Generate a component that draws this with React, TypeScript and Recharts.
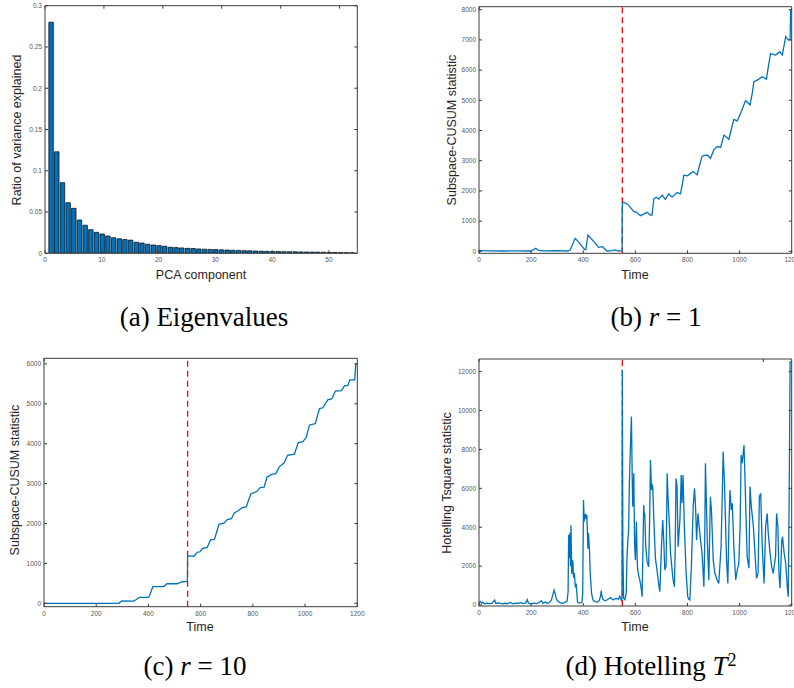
import { BarChart, Bar, LineChart, Line, XAxis, YAxis, ReferenceLine } from "recharts";

// (a) eigenvalue spectrum
const components = [
  1, 2, 3, 4, 5, 6, 7, 8, 9, 10, 11, 12, 13, 14, 15, 16, 17, 18, 19, 20, 21, 22, 23, 24, 25, 26, 27,
  28, 29, 30, 31, 32, 33, 34, 35, 36, 37, 38, 39, 40, 41, 42, 43, 44, 45, 46, 47, 48, 49, 50, 51, 52, 53, 54,
];
const varianceRatio = [
  0.28, 0.123, 0.0856, 0.0613, 0.0545, 0.0404, 0.034, 0.0286, 0.0254, 0.0234, 0.021, 0.0189, 0.0175,
  0.0166, 0.016, 0.0133, 0.0125, 0.011, 0.01, 0.0093, 0.0085, 0.0073, 0.0069, 0.0065, 0.006, 0.0058,
  0.0053, 0.005, 0.0047, 0.0045, 0.0042, 0.004, 0.0037, 0.0035, 0.0032, 0.003, 0.0028, 0.0026, 0.0024,
  0.0022, 0.0021, 0.002, 0.0019, 0.0018, 0.0017, 0.0016, 0.0015, 0.0014, 0.0013, 0.0011, 0.001, 0.0009,
  0.0008, 0.0007,
];

// (b) subspace-CUSUM, r = 1
const timeR1 = [
  0, 50, 100, 150, 200, 210, 218, 228, 250, 300, 340, 350, 369, 385, 405, 410, 418, 440, 459, 474, 491,
  510, 523, 535, 549, 550, 556, 570, 594, 605, 619, 632, 645, 658, 664, 671, 680, 690, 703, 715, 728,
  741, 760, 773, 780, 786, 800, 812, 822, 837, 845, 856, 866, 876, 888, 901, 914, 927, 940, 959, 970,
  978, 991, 1004, 1023, 1040, 1048, 1055, 1068, 1087, 1103, 1110, 1119, 1138, 1154, 1164, 1177, 1187,
  1194, 1196, 1200,
];
const cusumR1 = [
  20, 15, 10, 15, 10, 60, 100, 30, 15, 20, 10, 40, 430, 280, 60, 50, 540, 330, 130, 155, 10, 20, 45, 10,
  20, 1600, 1620, 1560, 1320, 1290, 1180, 1230, 1290, 1200, 1200, 1740, 1790, 1730, 1860, 1720, 1900,
  1800, 1950, 1900, 2200, 2520, 2500, 2580, 2640, 2530, 2800, 3150, 3180, 3190, 3080, 3350, 3470, 3440,
  3850, 3710, 4100, 4370, 4320, 4570, 4990, 4850, 5200, 5620, 5670, 5780, 5700, 6100, 6550, 6500, 6610,
  6500, 7110, 7000, 7000, 8000, 8000,
];

// (c) subspace-CUSUM, r = 10
const timeR10 = [
  0, 100, 200, 286, 298, 343, 352, 366, 400, 405, 417, 458, 471, 510, 529, 549, 550, 574, 587, 597, 606,
  625, 638, 653, 670, 689, 702, 718, 728, 743, 760, 775, 792, 815, 828, 843, 854, 872, 888, 901, 920,
  933, 959, 974, 991, 1004, 1017, 1039, 1055, 1068, 1087, 1103, 1116, 1139, 1151, 1164, 1171, 1190,
  1194, 1200,
];
const cusumR10 = [
  0, 0, 0, 0, 60, 55, 90, 150, 150, 200, 420, 420, 490, 490, 540, 550, 1190, 1180, 1280, 1290, 1370,
  1400, 1590, 1600, 1980, 2010, 2100, 2120, 2260, 2320, 2400, 2420, 2740, 2800, 2900, 2910, 3160, 3230,
  3250, 3420, 3520, 3710, 3740, 4030, 4050, 4150, 4470, 4500, 4880, 4900, 5100, 5130, 5320, 5330, 5450,
  5460, 5600, 5600, 6000, 6000,
];

// (d) Hotelling T^2
const timeT2 = [
  0, 5, 10, 15, 20, 30, 40, 50, 60, 65, 75, 90, 100, 110, 120, 130, 140, 150, 160, 170, 180, 185, 190,
  200, 210, 220, 230, 240, 245, 255, 262, 270, 278, 284, 288, 292, 296, 302, 310, 320, 330, 338, 342,
  344, 347, 349, 351, 353, 356, 360, 363, 366, 370, 373, 378, 385, 395, 398, 401, 404, 408, 411, 414,
  418, 420, 424, 427, 432, 437, 445, 455, 462, 467, 469, 472, 476, 485, 495, 505, 515, 525, 535, 540,
  543, 547, 549, 550, 552, 555, 560, 565, 568, 571, 574, 577, 581, 585, 588, 590, 594, 597, 600, 604,
  607, 609, 613, 617, 622, 626, 630, 632, 634, 636, 640, 645, 651, 655, 658, 662, 665, 667, 671, 677,
  683, 690, 694, 700, 705, 709, 713, 718, 722, 727, 731, 735, 744, 750, 753, 756, 760, 764, 771, 776,
  779, 783, 788, 795, 801, 805, 809, 815, 822, 827, 831, 835, 840, 845, 850, 856, 863, 866, 869, 876,
  882, 888, 892, 899, 905, 914, 920, 929, 934, 937, 942, 950, 955, 959, 963, 968, 972, 978, 985, 991,
  997, 1002, 1006, 1010, 1017, 1023, 1029, 1036, 1040, 1045, 1053, 1059, 1065, 1071, 1076, 1081, 1087,
  1094, 1100, 1106, 1110, 1117, 1123, 1129, 1138, 1142, 1147, 1151, 1155, 1162, 1165, 1171, 1177, 1183,
  1187, 1190, 1194, 1200,
];
const hotellingT2 = [
  120, 180, 90, 150, 60, 100, 70, 90, 260, 80, 110, 60, 90, 70, 130, 60, 100, 80, 120, 70, 110, 280, 90,
  60, 100, 70, 130, 220, 90, 160, 80, 130, 260, 560, 770, 600, 350, 200, 120, 90, 140, 200, 700, 3600,
  2400, 3700, 2000, 4100, 1600, 2300, 1400, 1650, 900, 1100, 150, 100, 140, 600, 5400, 4300, 4680, 4500,
  4630, 2900, 3700, 2800, 1600, 600, 260, 180, 150, 250, 500, 740, 450, 280, 220, 300, 380, 260, 340,
  300, 450, 380, 200, 400, 12100, 3000, 350, 280, 600, 2500, 3260, 3770, 6200, 8140, 9690, 6500, 5060,
  6770, 3200, 2310, 4290, 2300, 1800, 1500, 1290, 900, 430, 3500, 5140, 4700, 4710, 3000, 2230, 1970,
  4500, 7460, 5910, 6200, 6000, 4370, 2400, 1800, 1030, 690, 2910, 4370, 3340, 1800, 2000, 6770, 5060,
  4000, 2660, 1370, 940, 3000, 6510, 6090, 3000, 4370, 6690, 5230, 6690, 4030, 1630, 430, 300, 260, 1970,
  5060, 6000, 5060, 3340, 4710, 4030, 3340, 2660, 940, 3000, 7290, 3340, 1290, 5570, 4890, 2310, 1630,
  1290, 1110, 3000, 6000, 7890, 6260, 2310, 1110, 4030, 5910, 4890, 5230, 3000, 1290, 1800, 2140, 4000,
  7710, 7290, 8230, 5400, 2490, 1890, 6090, 5060, 4030, 2660, 1370, 1630, 5570, 5740, 3000, 1110, 4030,
  4710, 3690, 2660, 1970, 1630, 2490, 4710, 4030, 1630, 860, 3340, 3510, 2660, 2140, 940, 430, 5060,
  12500, 12500,
];

const changePoint = 550;
const timeTicks = [0, 200, 400, 600, 800, 1000, 1200];

const blue = "#0072BD";
const axisColor = "#3a3a3a";
const tickStyle = { fontSize: 6.5, fill: "#555", fontFamily: "Liberation Sans, Arial, sans-serif" };
const labelFont = "Liberation Sans, Arial, sans-serif";

// box with inward ticks on all four sides, like matlab (axes are 1px thick so recharts draws them)
function frame(xDomain: number[], xTicks: number[], yDomain: number[], yTicks: number[]) {
  return [
    <XAxis key="xb" xAxisId="b" type="number" dataKey="x" domain={xDomain} ticks={xTicks} interval={0}
      allowDataOverflow height={1} tickSize={-3} tickMargin={7.5} stroke={axisColor} tick={tickStyle} />,
    <XAxis key="xt" xAxisId="t" orientation="top" type="number" domain={xDomain} ticks={xTicks} interval={0}
      allowDataOverflow height={1} tickSize={-3} stroke={axisColor} tickFormatter={() => ""} />,
    <YAxis key="yl" yAxisId="l" type="number" domain={yDomain} ticks={yTicks} interval={0}
      allowDataOverflow width={1} tickSize={-3} tickMargin={6} stroke={axisColor} tick={tickStyle} />,
    <YAxis key="yr" yAxisId="r" orientation="right" type="number" domain={yDomain} ticks={yTicks} interval={0}
      allowDataOverflow width={1} tickSize={-3} stroke={axisColor} tickFormatter={() => ""} />,
  ];
}

function AxisText({ text, x, y, vertical }: { text: string; x: number; y: number; vertical?: boolean }) {
  return (
    <div
      style={{
        position: "absolute",
        left: x,
        top: y,
        transform: `translate(-50%, -50%)${vertical ? " rotate(-90deg)" : ""}`,
        whiteSpace: "nowrap",
        fontFamily: labelFont,
        fontSize: 12.5,
        color: "#262626",
      }}
    >
      {text}
    </div>
  );
}

function Caption({ children, x, y }: { children: any; x: number; y: number }) {
  return (
    <div
      style={{
        position: "absolute",
        left: x,
        top: y,
        transform: "translate(-50%, -50%)",
        whiteSpace: "nowrap",
        fontFamily: "Liberation Serif, Times New Roman, serif",
        fontSize: 27,
        color: "#000",
      }}
    >
      {children}
    </div>
  );
}

function CusumPanel({ times, values, yDomain, yTicks, left, top, margin }: any) {
  const data = times.map((t: number, i: number) => ({ x: t, y: values[i] }));
  return (
    <div style={{ position: "absolute", left, top }}>
      <LineChart width={397} height={300} data={data} margin={margin}>
        {frame([0, 1200], timeTicks, yDomain, yTicks)}
        <ReferenceLine xAxisId="b" yAxisId="l" x={changePoint} stroke="#ff0000" strokeWidth={1.3} strokeDasharray="6 4" />
        <Line xAxisId="b" yAxisId="l" dataKey="y" type="linear" stroke={blue} strokeWidth={1.3} dot={false}
          isAnimationActive={false} />
      </LineChart>
    </div>
  );
}

export default function App() {
  const eigData = components.map((c, i) => ({ x: c, ratio: varianceRatio[i] }));

  return (
    <div style={{ position: "absolute", left: 0, top: 0, width: 794, height: 688, background: "#fff", overflow: "hidden" }}>
      <div style={{ position: "absolute", left: 0, top: 0 }}>
        <BarChart width={397} height={300} data={eigData}
          margin={{ top: 4.7, left: 44, right: 38.7, bottom: 45.7 }} barGap={0} barCategoryGap={0}>
          {frame([0, 55], [0, 10, 20, 30, 40, 50], [0, 0.3], [0, 0.05, 0.1, 0.15, 0.2, 0.25, 0.3])}
          <Bar xAxisId="b" yAxisId="l" dataKey="ratio" fill={blue} stroke="#000" strokeWidth={0.7} barSize={4.5}
            isAnimationActive={false} />
        </BarChart>
      </div>

      <CusumPanel times={timeR1} values={cusumR1} yDomain={[-66, 8100]}
        yTicks={[0, 1000, 2000, 3000, 4000, 5000, 6000, 7000, 8000]}
        left={397} top={0} margin={{ top: 5.7, left: 81, right: 1.3, bottom: 45.7 }} />

      <CusumPanel times={timeR10} values={cusumR10} yDomain={[-85, 6140]}
        yTicks={[0, 1000, 2000, 3000, 4000, 5000, 6000]}
        left={0} top={344} margin={{ top: 13.3, left: 43, right: 38.7, bottom: 36.3 }} />

      <CusumPanel times={timeT2} values={hotellingT2} yDomain={[-50, 12650]}
        yTicks={[0, 2000, 4000, 6000, 8000, 10000, 12000]}
        left={397} top={344} margin={{ top: 14, left: 81, right: 1.3, bottom: 37 }} />

      <AxisText text="Ratio of variance explained" x={17} y={130} vertical />
      <AxisText text="PCA component" x={201} y={275} />
      <AxisText text="Subspace-CUSUM statistic" x={452} y={130} vertical />
      <AxisText text="Time" x={635} y={275} />
      <AxisText text="Subspace-CUSUM statistic" x={15} y={480} vertical />
      <AxisText text="Time" x={200} y={627} />
      <AxisText text="Hotelling Tsquare statistic" x={447} y={483} vertical />
      <AxisText text="Time" x={635} y={627} />

      <Caption x={204} y={317}>(a) Eigenvalues</Caption>
      <Caption x={656} y={317}>(b) <i>r</i> = 1</Caption>
      <Caption x={195} y={666}>(c) <i>r</i> = 10</Caption>
      <Caption x={651} y={666}>(d) Hotelling <i>T</i><sup style={{ fontSize: 18, verticalAlign: "0.5em", lineHeight: 0 }}>2</sup></Caption>
    </div>
  );
}
